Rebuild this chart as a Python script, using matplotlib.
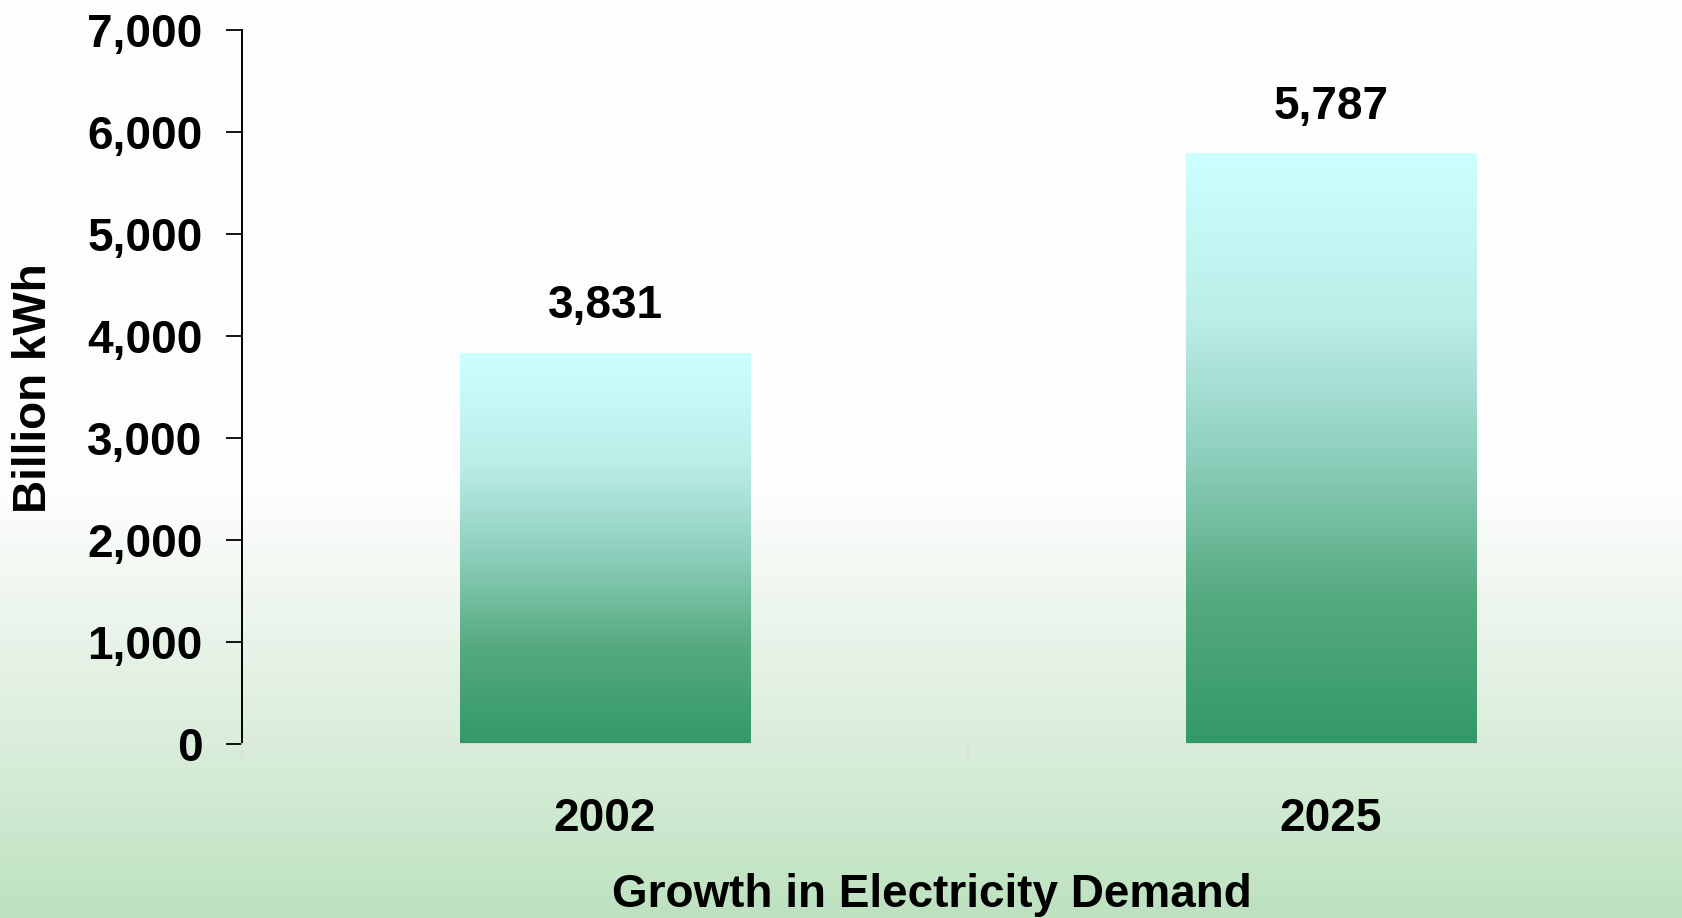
import numpy as np
import matplotlib
matplotlib.use("Agg")
import matplotlib.pyplot as plt
from matplotlib.colors import LinearSegmentedColormap
from matplotlib.ticker import FuncFormatter, FixedLocator

# data
years = ["2002", "2025"]
demand = [3831, 5787]
y_ticks = [0, 1000, 2000, 3000, 4000, 5000, 6000, 7000]

plt.rcParams['font.family'] = ['Liberation Sans', 'DejaVu Sans']
plt.rcParams['font.weight'] = 'bold'

fig = plt.figure(figsize=(16.83, 9.18), dpi=100)

# background gradient (white on top, pale green at the bottom)
bg = fig.add_axes([0, 0, 1, 1], zorder=0)
bg_cmap = LinearSegmentedColormap.from_list(
    "bg", [(0.0, "#bde2c0"), (0.2, "#dbeedc"), (0.46, "#fdfdfd"), (1.0, "#fefefe")])
bg.imshow(np.linspace(0, 1, 256).reshape(-1, 1), cmap=bg_cmap, aspect='auto',
          extent=[0, 1, 0, 1], origin='lower')
bg.axis('off')

ax = fig.add_axes([242 / 1683, 1 - 744 / 918, 1452 / 1683, 714 / 918], zorder=1)
ax.patch.set_alpha(0)

bar_cmap = LinearSegmentedColormap.from_list(
    "bar", [(0.0, "#339966"), (0.25, "#56aa80"), (0.5, "#90d1c0"),
            (0.72, "#bcede8"), (1.0, "#ccffff")])
x = np.arange(len(years))
bars = ax.bar(x, demand, width=0.4, color='none', edgecolor='none')
grad = np.linspace(0, 1, 256).reshape(-1, 1)
for b in bars:
    ax.imshow(grad, cmap=bar_cmap, aspect='auto', origin='lower',
              extent=[b.get_x(), b.get_x() + b.get_width(), 0, b.get_height()],
              zorder=2)

for xi, v in zip(x, demand):
    ax.annotate(f"{v:,}", (xi, v), xytext=(0, 34), textcoords='offset points',
                ha='center', va='center', fontsize=33, fontweight='bold')

ax.set_xlim(-0.5, 1.5)
ax.set_ylim(0, 7000)
ax.set_yticks(y_ticks)
ax.yaxis.set_major_formatter(FuncFormatter(lambda v, p: f"{v:,.0f}"))
ax.set_xticks(x)
ax.set_xticklabels(years)
ax.xaxis.set_minor_locator(FixedLocator([-0.5, 0.5, 1.5]))

ax.tick_params(axis='y', length=11.5, width=1.3, pad=17, labelsize=33, direction='out')
ax.tick_params(axis='x', which='major', length=0, pad=38, labelsize=33)
ax.tick_params(axis='x', which='minor', length=11, width=1.2, color='#dddddd', direction='out')

for s in ['top', 'right']:
    ax.spines[s].set_visible(False)
ax.spines['left'].set_linewidth(1.4)
ax.spines['bottom'].set_color('#e0e0e0')
ax.spines['bottom'].set_linewidth(1.3)

ax.set_ylabel("Billion kWh", fontsize=33, fontweight='bold', va='center')
ax.yaxis.set_label_coords(-0.1433, 0.4986)
ax.set_xlabel("Growth in Electricity Demand", fontsize=33, fontweight='bold', va='center')
ax.xaxis.set_label_coords(0.475, -0.212)

fig.savefig("out.png", dpi=100)
